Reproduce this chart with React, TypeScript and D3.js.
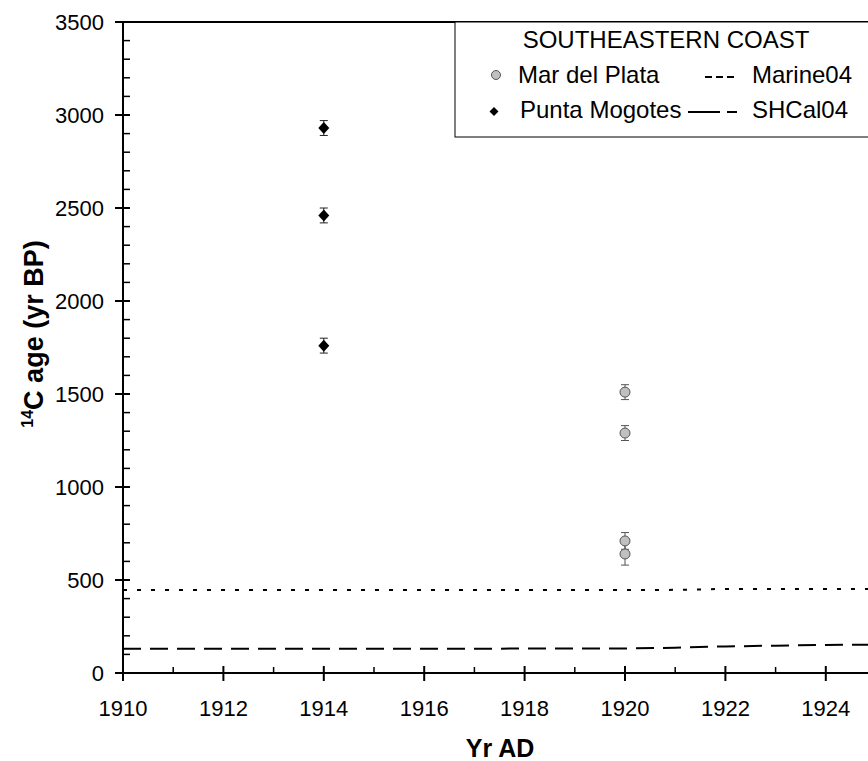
import * as d3 from "d3";

// Punta Mogotes (1914) and Mar del Plata (1920) shell ages
const puntaYears = [1914, 1914, 1914];
const puntaAges = [2930, 2460, 1760];
const puntaErrs = [40, 40, 40];

const marYears = [1920, 1920, 1920, 1920];
const marAges = [1510, 1290, 710, 640];
const marErrs = [40, 40, 45, 60];

// calibration curves
const marineYears = [1910, 1915, 1920, 1921, 1922, 1925, 1930];
const marineAges = [446, 446, 446, 447, 452, 452, 452];

const shcalYears = [1910, 1915, 1920, 1921, 1922, 1923, 1924, 1925, 1926, 1930];
const shcalAges = [130, 130, 132, 136, 143, 147, 151, 152, 152, 152];

const yTicks = [0, 500, 1000, 1500, 2000, 2500, 3000, 3500];
const xTicks = [1910, 1912, 1914, 1916, 1918, 1920, 1922, 1924, 1926, 1928, 1930];

const W = 868;
const H = 761;
const font = "Arial, 'Liberation Sans', sans-serif";

export default function App() {
  const x = d3.scaleLinear().domain([1910, 1920]).range([123, 625]);
  const y = d3.scaleLinear().domain([0, 3500]).range([673, 22]);

  const xMinor = d3.range(1911, 1931, 2);
  const yMinor = d3.range(100, 3500, 100).filter((v) => v % 500 !== 0);

  const line = d3
    .line<[number, number]>()
    .x((d) => x(d[0]))
    .y((d) => y(d[1]));

  const marine = line(marineYears.map((yr, i) => [yr, marineAges[i]]));
  const shcal = line(shcalYears.map((yr, i) => [yr, shcalAges[i]]));

  const x0 = x(1910);
  const y0 = y(0);
  const yTop = y(3500);

  return (
    <svg
      width={W}
      height={H}
      style={{ position: "absolute", left: 0, top: 0, background: "#fff" }}
      fontFamily={font}
    >
      <rect width={W} height={H} fill="#fff" />

      {/* curves */}
      <path d={marine ?? ""} fill="none" stroke="#000" strokeWidth={2} strokeDasharray="4 10" />
      <path d={shcal ?? ""} fill="none" stroke="#000" strokeWidth={2} strokeDasharray="18 9" />

      {/* Punta Mogotes */}
      {puntaAges.map((a, i) => {
        const cx = x(puntaYears[i]);
        const cy = y(a);
        const t = y(a + puntaErrs[i]);
        const b = y(a - puntaErrs[i]);
        return (
          <g key={"p" + i} stroke="#222" strokeWidth={1}>
            <line x1={cx} x2={cx} y1={t} y2={b} />
            <line x1={cx - 4} x2={cx + 4} y1={t} y2={t} />
            <line x1={cx - 4} x2={cx + 4} y1={b} y2={b} />
            <path d={`M${cx},${cy - 6}L${cx + 5.5},${cy}L${cx},${cy + 6}L${cx - 5.5},${cy}Z`} fill="#000" stroke="none" />
          </g>
        );
      })}

      {/* Mar del Plata */}
      {marAges.map((a, i) => {
        const cx = x(marYears[i]);
        const t = y(a + marErrs[i]);
        const b = y(a - marErrs[i]);
        return (
          <g key={"m" + i} stroke="#555" strokeWidth={1}>
            <line x1={cx} x2={cx} y1={t} y2={b} />
            <line x1={cx - 4} x2={cx + 4} y1={t} y2={t} />
            <line x1={cx - 4} x2={cx + 4} y1={b} y2={b} />
          </g>
        );
      })}
      {marAges.map((a, i) => (
        <circle key={"mc" + i} cx={x(marYears[i])} cy={y(a)} r={5} fill="#c0c0c0" stroke="#555" strokeWidth={1} />
      ))}

      {/* frame top */}
      <line x1={115} x2={W} y1={yTop} y2={yTop} stroke="#000" strokeWidth={2} />

      {/* y axis */}
      <line x1={x0} x2={x0} y1={yTop} y2={y0} stroke="#000" strokeWidth={2} />
      {yTicks.map((v) => (
        <g key={"yt" + v}>
          <line x1={115} x2={130} y1={y(v)} y2={y(v)} stroke="#000" strokeWidth={2} />
          <text x={104} y={y(v)} dy="0.36em" textAnchor="end" fontSize={22}>
            {v}
          </text>
        </g>
      ))}
      {yMinor.map((v) => (
        <line key={"ym" + v} x1={x0} x2={x0 + 7} y1={y(v)} y2={y(v)} stroke="#000" strokeWidth={1.5} />
      ))}

      {/* x axis */}
      <line x1={x0} x2={W} y1={y0} y2={y0} stroke="#000" strokeWidth={2} />
      {xTicks
        .filter((v) => x(v) <= W)
        .map((v) => (
          <g key={"xt" + v}>
            <line x1={x(v)} x2={x(v)} y1={y0 - 7} y2={y0 + 8} stroke="#000" strokeWidth={2} />
            <text x={x(v)} y={y0 + 43} textAnchor="middle" fontSize={22}>
              {v}
            </text>
          </g>
        ))}
      {xMinor
        .filter((v) => x(v) <= W)
        .map((v) => (
          <line key={"xm" + v} x1={x(v)} x2={x(v)} y1={y0 - 6} y2={y0} stroke="#000" strokeWidth={1.5} />
        ))}

      {/* axis titles */}
      <text x={500} y={757} textAnchor="middle" fontSize={25} fontWeight="bold">
        Yr AD
      </text>
      <text
        transform={`translate(43,${334}) rotate(-90)`}
        textAnchor="middle"
        fontSize={27}
        fontWeight="bold"
      >
        <tspan fontSize={16} dy="-10">14</tspan>
        <tspan dy="10">C age (yr BP)</tspan>
      </text>

      {/* legend */}
      <rect x={455} y={yTop} width={W} height={137 - yTop} fill="#fff" stroke="#000" strokeWidth={1} />
      <text x={666} y={48} textAnchor="middle" fontSize={24}>
        SOUTHEASTERN COAST
      </text>
      <circle cx={496} cy={75} r={4.5} fill="#c0c0c0" stroke="#555" strokeWidth={1} />
      <text x={518} y={83} fontSize={24}>
        Mar del Plata
      </text>
      <path d="M494,107L498.5,111.5L494,116L489.5,111.5Z" fill="#000" />
      <text x={520} y={118} fontSize={24}>
        Punta Mogotes
      </text>
      <line x1={705} x2={736} y1={77} y2={77} stroke="#000" strokeWidth={2} strokeDasharray="7 4" />
      <text x={752} y={83} fontSize={24}>
        Marine04
      </text>
      <line x1={688} x2={737} y1={112} y2={112} stroke="#000" strokeWidth={2} strokeDasharray="32 7" />
      <text x={752} y={118} fontSize={24}>
        SHCal04
      </text>
    </svg>
  );
}
